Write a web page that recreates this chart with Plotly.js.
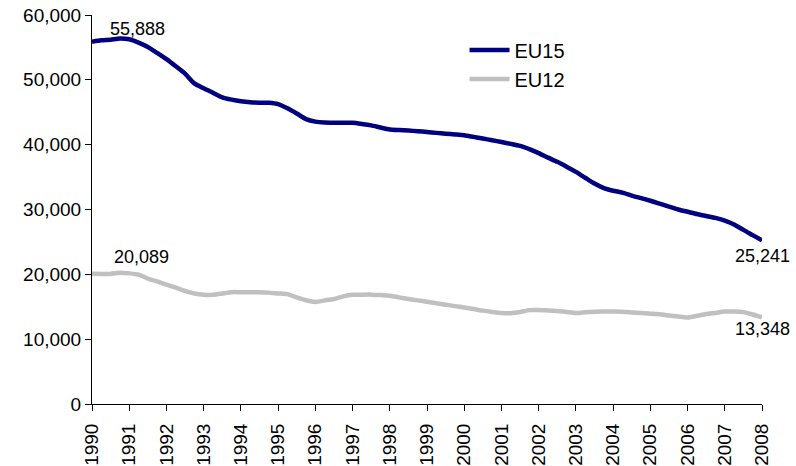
<!DOCTYPE html>
<html>
<head>
<meta charset="utf-8">
<script src="https://cdn.plot.ly/plotly-3.0.1.min.js"></script>
<style>html,body{margin:0;padding:0;background:#fff;}#chart{width:796px;height:466px;}</style>
</head>
<body>
<div id="chart"></div>
<script>
// Quarterly observations, 1990 Q1 .. 2008 Q1
const startYear = 1990;
const nQuarters = 73;
const quarters = [];
for (let i = 0; i < nQuarters; i++) quarters.push(startYear + i / 4);

const eu15 = [
  55888, 56100, 56200, 56380, 56250, 55750, 55070, 54150,
  53200, 52100, 50950, 49450, 48700, 48000, 47300, 46950,
  46700, 46550, 46480, 46450, 46250, 45600, 44800, 43950,
  43550, 43400, 43370, 43370, 43370, 43200, 42980, 42650,
  42350, 42250, 42170, 42080, 41950, 41820, 41700, 41580,
  41450, 41200, 40950, 40680, 40400, 40120, 39800, 39300,
  38700, 38000, 37350, 36600, 35800, 34900, 34000, 33300,
  32900, 32600, 32150, 31750, 31350, 30900, 30450, 30000,
  29650, 29300, 29000, 28700, 28300, 27700, 26850, 26050,
  25241
];

const eu12 = [
  20089, 20070, 20070, 20250, 20150, 19950, 19350, 18900,
  18400, 17950, 17450, 17050, 16860, 16840, 17050, 17250,
  17250, 17250, 17250, 17180, 17050, 16940, 16450, 16000,
  15750, 15980, 16200, 16600, 16840, 16860, 16870, 16800,
  16690, 16450, 16200, 15980, 15780, 15550, 15320, 15100,
  14880, 14650, 14400, 14200, 14030, 14010, 14200, 14480,
  14500, 14420, 14340, 14200, 14030, 14150, 14240, 14260,
  14260, 14240, 14130, 14030, 13930, 13830, 13650, 13480,
  13340, 13600, 13880, 14050, 14250, 14250, 14170, 13800,
  13348
];

const yearTicks = [];
for (let y = 1990; y <= 2008; y++) yearTicks.push(y);
const yTicks = [0, 10000, 20000, 30000, 40000, 50000, 60000];
const yTickLabels = ["0", "10,000", "20,000", "30,000", "40,000", "50,000", "60,000"];

const labelTexts = ["55,888", "20,089", "25,241", "13,348"];

const font = "Liberation Sans, Arial, sans-serif";

const traces = [
  {x: quarters, y: eu15, name: "EU15", type: "scatter", mode: "lines",
   line: {color: "#000080", width: 4.5, shape: "spline", smoothing: 0.6}},
  {x: quarters, y: eu12, name: "EU12", type: "scatter", mode: "lines",
   line: {color: "#C0C0C0", width: 4.5, shape: "spline", smoothing: 0.6}}
];

const layout = {
  width: 796, height: 466,
  margin: {l: 92, r: 34, t: 15, b: 62},
  paper_bgcolor: "#fff", plot_bgcolor: "#fff",
  font: {family: font, size: 18, color: "#000"},
  showlegend: true,
  legend: {x: 0.556, y: 0.96, xanchor: "left", yanchor: "top",
           bgcolor: "rgba(0,0,0,0)", font: {family: font, size: 20, color: "#000"},
           itemwidth: 40, tracegroupgap: 0},
  xaxis: {range: [1990, 2008], tickmode: "array", tickvals: yearTicks,
          ticktext: yearTicks.map(String), tickangle: -90,
          showgrid: false, zeroline: false, showline: true, linecolor: "#000", linewidth: 1,
          ticks: "outside", ticklen: 6, tickcolor: "#000", ticklabelstandoff: 5,
          tickfont: {family: font, size: 19, color: "#000"}},
  yaxis: {range: [0, 60000], tickmode: "array", tickvals: yTicks, ticktext: yTickLabels,
          showgrid: false, zeroline: false, showline: true, linecolor: "#000", linewidth: 1,
          ticks: "outside", ticklen: 6, tickcolor: "#000",
          tickfont: {family: font, size: 19, color: "#000"}},
  annotations: [
    {x: 1991.21, y: 57800, text: labelTexts[0], showarrow: false, xanchor: "center", yanchor: "middle", font: {family: font, size: 18}},
    {x: 1991.33, y: 22600, text: labelTexts[1], showarrow: false, xanchor: "center", yanchor: "middle", font: {family: font, size: 18}},
    {x: 2008.0, y: 22840, text: labelTexts[2], showarrow: false, xanchor: "center", yanchor: "middle", font: {family: font, size: 18}},
    {x: 2008.0, y: 11630, text: labelTexts[3], showarrow: false, xanchor: "center", yanchor: "middle", font: {family: font, size: 18}}
  ]
};

Plotly.newPlot("chart", traces, layout, {displayModeBar: false, staticPlot: true});
</script>
</body>
</html>
